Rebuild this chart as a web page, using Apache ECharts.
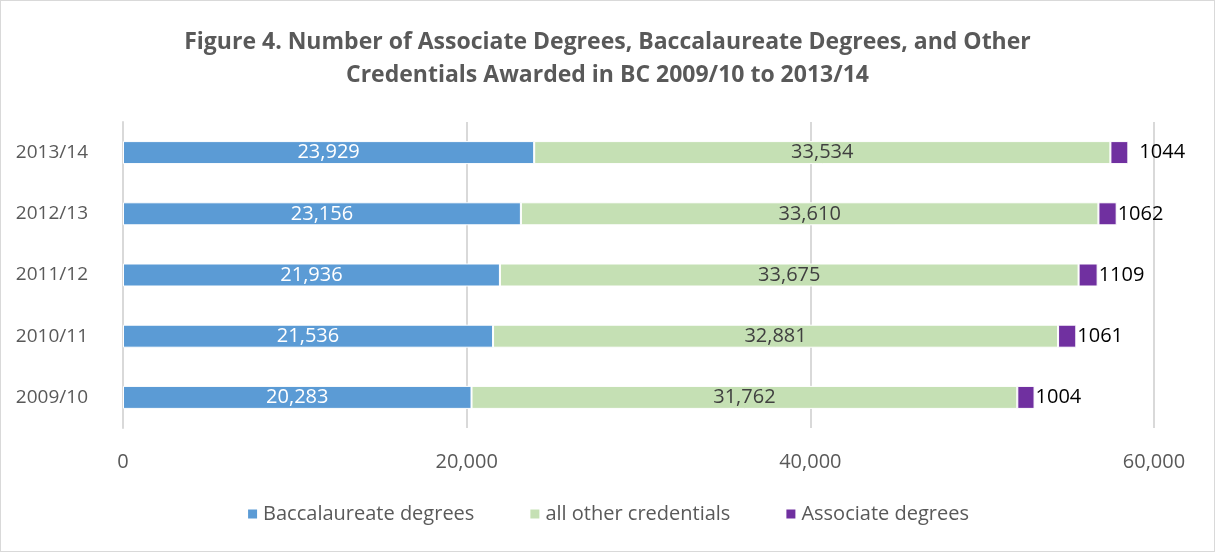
<!DOCTYPE html>
<html><head><meta charset="utf-8">
<script src="https://cdn.jsdelivr.net/npm/echarts@6/dist/echarts.min.js"></script>
<style>
html,body{margin:0;padding:0;background:#fff;}
#c{position:absolute;left:0;top:0;width:1213px;height:550px;border:1px solid #d9d9d9;}
</style></head><body><div id="c"></div>
<script>
const categories = ['2009/10','2010/11','2011/12','2012/13','2013/14'];
const baccalaureate = [20283, 21536, 21936, 23156, 23929];
const otherCredentials = [31762, 32881, 33675, 33610, 33534];
const associate = [1004, 1061, 1109, 1062, 1044];
const seriesNames = ['Baccalaureate degrees','all other credentials','Associate degrees'];
const xTicks = {min:0, max:60000, interval:20000};

const font = '"Open Sans", "Liberation Sans", sans-serif';
const chart = echarts.init(document.getElementById('c'));
chart.setOption({
  animation:false,
  title:{
    text:'Figure 4. Number of Associate Degrees, Baccalaureate Degrees, and Other\nCredentials Awarded in BC 2009/10 to 2013/14',
    left:'center', top:20,
    textStyle:{fontFamily:font, fontSize:23, fontWeight:'bold', color:'#595959', lineHeight:33}
  },
  legend:{
    bottom:22, left:'center', itemWidth:11, itemHeight:11, itemGap:54,
    icon:'rect',
    textStyle:{fontFamily:font, fontSize:20, color:'#595959'},
    data:seriesNames
  },
  grid:{left:122, right:60, top:121, bottom:123, containLabel:false},
  xAxis:{
    type:'value', min:xTicks.min, max:xTicks.max, interval:xTicks.interval,
    axisLine:{show:false}, axisTick:{show:false},
    splitLine:{lineStyle:{color:'#d9d9d9', width:2}},
    axisLabel:{fontFamily:font, fontSize:20, color:'#595959', margin:24,
      formatter:v=>v.toLocaleString('en-US')}
  },
  yAxis:{
    type:'category', data:categories,
    axisLine:{show:true, lineStyle:{color:'#d9d9d9', width:2}}, axisTick:{show:false},
    axisLabel:{fontFamily:font, fontSize:19, color:'#595959', margin:35}
  },
  series:[
    {name:seriesNames[0], type:'bar', stack:'t', data:baccalaureate, barWidth:23,
     itemStyle:{color:'#5b9bd5', borderColor:'#fff', borderWidth:1},
     label:{show:true, position:'inside', color:'#fff', fontFamily:font, fontSize:20,
       formatter:p=>p.value.toLocaleString('en-US')}},
    {name:seriesNames[1], type:'bar', stack:'t', data:otherCredentials,
     itemStyle:{color:'#c5e0b4', borderColor:'#fff', borderWidth:1},
     label:{show:true, position:'inside', color:'#404040', fontFamily:font, fontSize:20,
       formatter:p=>p.value.toLocaleString('en-US')}},
    {name:seriesNames[2], type:'bar', stack:'t',
     data:associate.map((v,i)=> i===categories.length-1 ? {value:v, label:{offset:[10,0]}} : v),
     itemStyle:{color:'#7030a0', borderColor:'#fff', borderWidth:1},
     label:{show:true, position:'right', distance:1, color:'#000', fontFamily:font, fontSize:20,
       formatter:p=>String(p.value)}}
  ]
});
</script></body></html>
